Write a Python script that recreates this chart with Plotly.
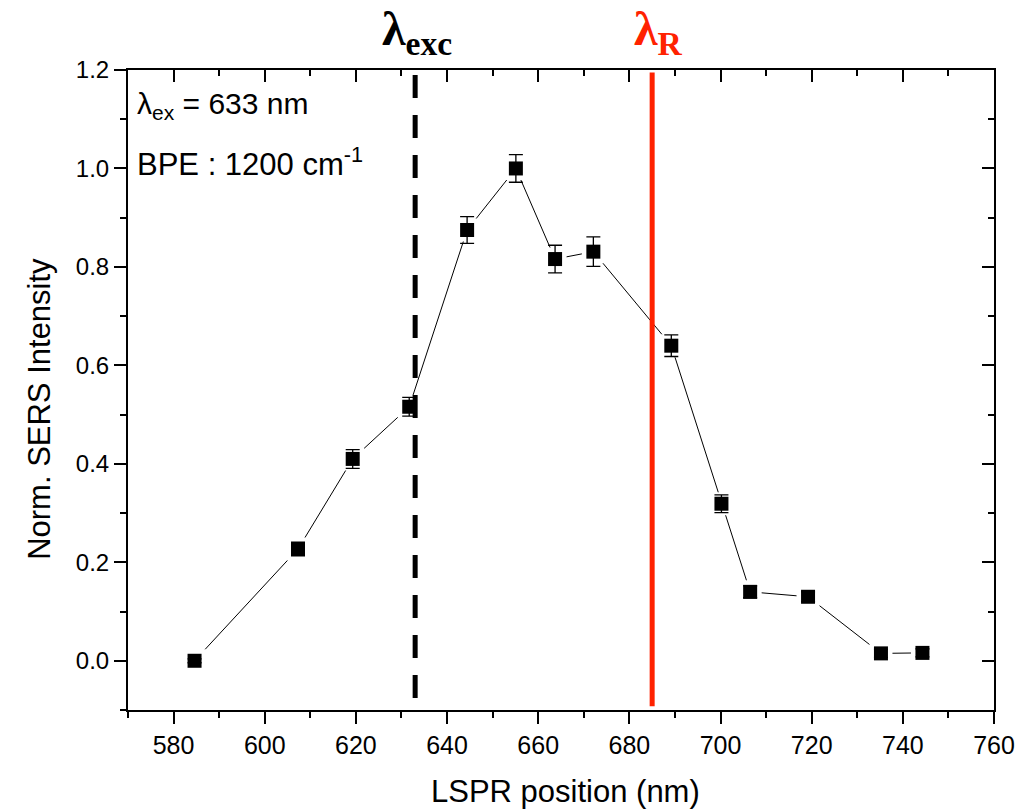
import plotly.graph_objects as go

# LSPR position (nm) of each sample and its normalised SERS intensity
lspr_nm = [584.6, 607.3, 619.3, 631.7, 644.4, 655.1, 663.7, 672.1,
           689.2, 700.2, 706.5, 719.2, 735.2, 744.3]
sers_norm = [0.000, 0.227, 0.410, 0.516, 0.875, 1.000, 0.816, 0.831,
             0.640, 0.319, 0.140, 0.130, 0.015, 0.016]
sers_err = [0.004, 0.014, 0.019, 0.019, 0.027, 0.028, 0.028, 0.030,
            0.022, 0.018, 0.012, 0.010, 0.008, 0.008]

# reference wavelengths (nm)
lambda_exc = 633
lambda_R = 685

x_range = [570, 760]
y_range = [-0.1, 1.2]
x_ticks = [580, 600, 620, 640, 660, 680, 700, 720, 740, 760]
y_ticks = [0.0, 0.2, 0.4, 0.6, 0.8, 1.0, 1.2]

SANS = "Liberation Sans, Arial, sans-serif"
SERIF = "Liberation Serif, Times New Roman, serif"

fig = go.Figure()

# connecting line
fig.add_trace(go.Scatter(
    x=lspr_nm, y=sers_norm, mode="lines",
    line=dict(color="black", width=1), showlegend=False, hoverinfo="skip"))
# white halo so the line stops short of each symbol
fig.add_trace(go.Scatter(
    x=lspr_nm, y=sers_norm, mode="markers",
    marker=dict(symbol="square", size=14, color="white",
                line=dict(color="white", width=9)),
    showlegend=False, hoverinfo="skip"))
# symbols with error bars
fig.add_trace(go.Scatter(
    x=lspr_nm, y=sers_norm, mode="markers",
    marker=dict(symbol="square", size=14, color="black", line=dict(width=0)),
    error_y=dict(type="data", array=sers_err, visible=True,
                 color="black", thickness=1.3, width=7),
    showlegend=False))
# invisible trace that activates the mirrored top/right axes
fig.add_trace(go.Scatter(
    x=[x_range[0]], y=[y_range[0]], xaxis="x2", yaxis="y2", mode="markers",
    marker=dict(opacity=0), showlegend=False, hoverinfo="skip"))

# vertical reference lines
fig.add_shape(type="line", xref="x", yref="paper",
              x0=lambda_exc, x1=lambda_exc, y0=0.992, y1=0.008,
              line=dict(color="black", width=5, dash="23px,17px"), layer="above")
fig.add_shape(type="line", xref="x", yref="paper",
              x0=lambda_R, x1=lambda_R, y0=0.996, y1=0.006,
              line=dict(color="#ff2200", width=5), layer="above")

axis_common = dict(showline=True, linecolor="black", linewidth=2,
                   showgrid=False, zeroline=False, tickcolor="black",
                   tickwidth=2, ticklen=12)

fig.update_layout(
    width=1035, height=810,
    margin=dict(l=128, r=41, t=70, b=100),
    paper_bgcolor="white", plot_bgcolor="white",
    font=dict(family=SANS, color="black"),
    xaxis=dict(range=x_range, tickmode="array", tickvals=x_ticks,
               ticktext=[str(v) for v in x_ticks], ticks="outside",
               tickfont=dict(size=25, family=SANS),
               minor=dict(dtick=10, tick0=570, ticks="outside", ticklen=6,
                          tickwidth=2, tickcolor="black"),
               **axis_common),
    yaxis=dict(range=y_range, tickmode="array", tickvals=y_ticks,
               ticktext=[f"{v:.1f}" for v in y_ticks], ticks="outside",
               tickfont=dict(size=24, family=SANS),
               minor=dict(dtick=0.1, tick0=0, ticks="outside", ticklen=6,
                          tickwidth=2, tickcolor="black"),
               **axis_common),
    xaxis2=dict(range=x_range, overlaying="x", side="top", anchor="y2",
                tickmode="array", tickvals=x_ticks, ticks="inside",
                showticklabels=False,
                minor=dict(dtick=10, tick0=570, ticks="inside", ticklen=6,
                           tickwidth=2, tickcolor="black"),
                **axis_common),
    yaxis2=dict(range=y_range, overlaying="y", side="right", anchor="x2",
                tickmode="array", tickvals=y_ticks, ticks="inside",
                showticklabels=False,
                minor=dict(dtick=0.1, tick0=0, ticks="inside", ticklen=6,
                           tickwidth=2, tickcolor="black"),
                **axis_common),
)

annotations = [
    # axis titles
    dict(text="LSPR position (nm)", xref="paper", yref="paper",
         x=0.505, y=-0.128, xanchor="center", yanchor="middle",
         showarrow=False, font=dict(size=31, family=SANS)),
    dict(text="Norm. SERS Intensity", xref="paper", yref="paper",
         x=-0.102, y=0.47, xanchor="center", yanchor="middle",
         textangle=-90, showarrow=False, font=dict(size=31, family=SANS)),
    # inset notes
    dict(text="λ<sub>ex</sub> = 633 nm", xref="paper", yref="paper",
         x=0.008, y=0.945, xanchor="left", yanchor="middle",
         showarrow=False, font=dict(size=30, family=SANS)),
    dict(text="BPE : 1200 cm<sup>-1</sup>", xref="paper", yref="paper",
         x=0.008, y=0.857, xanchor="left", yanchor="middle",
         showarrow=False, font=dict(size=31, family=SANS)),
    # line labels above the frame
    dict(text="<b>λ<sub>exc</sub></b>", xref="x", yref="paper",
         x=lambda_exc + 0.5, y=1.01, xanchor="center", yanchor="bottom",
         showarrow=False, font=dict(size=48, family=SERIF, color="black")),
    dict(text="<b>λ<sub>R</sub></b>", xref="x", yref="paper",
         x=lambda_R + 1.5, y=1.01, xanchor="center", yanchor="bottom",
         showarrow=False, font=dict(size=48, family=SERIF, color="#ff2200")),
]
fig.update_layout(annotations=annotations)

fig.write_html("out.html")
